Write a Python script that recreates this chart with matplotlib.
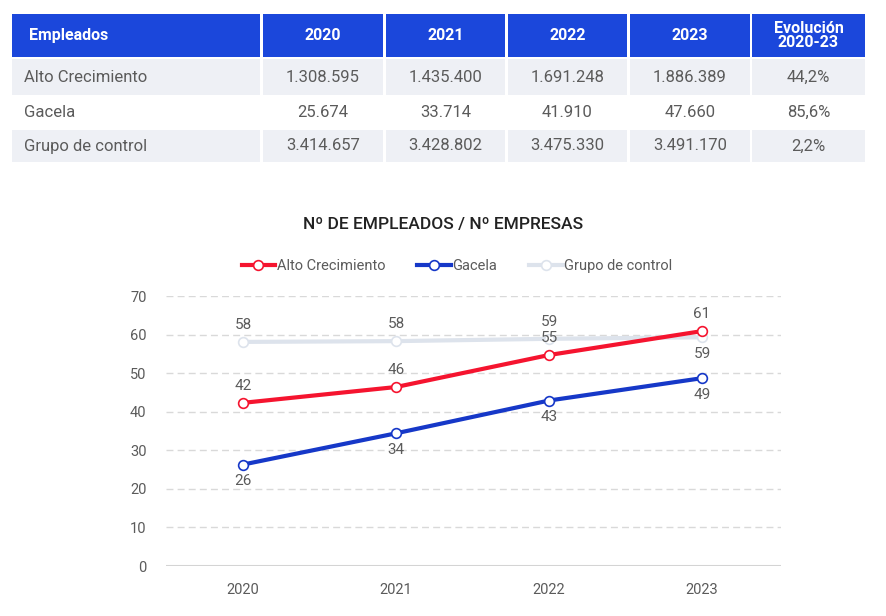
import numpy as np
import matplotlib.pyplot as plt
from matplotlib.patches import Rectangle

plt.rcParams['font.family'] = ['Roboto', 'DejaVu Sans']

# data
years = ['2020', '2021', '2022', '2023']
series = ['Alto Crecimiento', 'Gacela', 'Grupo de control']
alto = [42.3, 46.4, 54.7, 60.9]
gacela = [26.3, 34.4, 42.9, 48.7]
control = [58.1, 58.3, 58.9, 59.3]

tab_header = ['Empleados', '2020', '2021', '2022', '2023', 'Evolución\n2020-23']
tab_rows = [
    ['Alto Crecimiento', '1.308.595', '1.435.400', '1.691.248', '1.886.389', '44,2%'],
    ['Gacela', '25.674', '33.714', '41.910', '47.660', '85,6%'],
    ['Grupo de control', '3.414.657', '3.428.802', '3.475.330', '3.491.170', '2,2%'],
]

W, H = 886, 616
fig = plt.figure(figsize=(W / 100, H / 100), dpi=100)

def fx(x):
    return x / W

def fy(y):
    return 1 - y / H

# table drawn with rectangles and text in figure coords
col_edges = [(12, 260), (263, 383), (386, 505), (508, 627), (630, 750), (752, 865)]
row_edges = [(14, 57), (59, 95), (97, 128), (130, 162)]
blue_head = '#1b47db'
gray_row = '#eef0f5'
txt_col = '#5b5b5b'

for r, (y0, y1) in enumerate(row_edges):
    if r == 0:
        fc = blue_head
    elif r % 2 == 1:
        fc = gray_row
    else:
        fc = 'white'
    for c, (x0, x1) in enumerate(col_edges):
        fig.add_artist(Rectangle((fx(x0), fy(y1)), fx(x1 - x0), (y1 - y0) / H,
                                 transform=fig.transFigure, facecolor=fc,
                                 edgecolor='none'))
        if r == 0:
            label = tab_header[c]
            color = 'white'
            weight = 'bold'
            size = 11.5 if c < 5 else 11.5
        else:
            label = tab_rows[r - 1][c]
            color = txt_col
            weight = 'normal'
            size = 12
        ym = fy((y0 + y1) / 2)
        if c == 0:
            xt = fx(29) if r == 0 else fx(24)
            fig.text(xt, ym, label, ha='left', va='center', color=color,
                     fontsize=size, fontweight=weight, linespacing=0.9)
        else:
            fig.text(fx((x0 + x1) / 2), ym, label, ha='center', va='center',
                     color=color, fontsize=size, fontweight=weight,
                     linespacing=0.9)

# line chart
ax = fig.add_axes([fx(166), 50 / H, 615 / W, 270 / H])
x = np.arange(len(years))
red = '#f5142f'
blue = '#1638c8'
light = '#dde3ec'

ax.plot(x, control, color=light, lw=3, marker='o', ms=7, mfc='white',
        mec=light, mew=1.2, label=series[2], zorder=2)
ax.plot(x, alto, color=red, lw=3, marker='o', ms=7, mfc='white',
        mec=red, mew=1.2, label=series[0], zorder=3)
ax.plot(x, gacela, color=blue, lw=3, marker='o', ms=7, mfc='white',
        mec=blue, mew=1.2, label=series[1], zorder=3)

lab_kw = dict(textcoords='offset points', ha='center', color=txt_col, fontsize=11)
for i in range(len(years)):
    ax.annotate(f'{alto[i]:.0f}', (x[i], alto[i]), xytext=(0, 7), va='bottom', **lab_kw)
    ax.annotate(f'{gacela[i]:.0f}', (x[i], gacela[i]), xytext=(0, -7), va='top', **lab_kw)
    if i < 3:
        ax.annotate(f'{control[i]:.0f}', (x[i], control[i]), xytext=(0, 7), va='bottom', **lab_kw)
    else:
        ax.annotate(f'{control[i]:.0f}', (x[i], control[i]), xytext=(0, -7), va='top', **lab_kw)

ax.set_xlim(-0.503, 3.516)
ax.set_ylim(0, 70)
ax.set_yticks(np.arange(0, 71, 10))
ax.set_xticks(x)
ax.set_xticklabels(years)
ax.tick_params(axis='both', length=0, labelsize=10.5, labelcolor=txt_col)
ax.tick_params(axis='y', pad=14)
ax.tick_params(axis='x', pad=12)
for s in ax.spines.values():
    s.set_visible(False)
for v in np.arange(10, 71, 10):
    ax.axhline(v, color='#d9d9d9', lw=1, ls=(0, (5, 3)), zorder=0)
ax.axhline(0, color='#d4d4d4', lw=1.5, zorder=0)

fig.text(fx(443), fy(224), 'Nº DE EMPLEADOS / Nº EMPRESAS', ha='center',
         va='center', fontsize=12.5, color='#222222', fontweight='medium')

h, l = ax.get_legend_handles_labels()
order = [1, 2, 0]
ax.legend([h[i] for i in order], [l[i] for i in order], ncol=3, frameon=False,
          loc='center', bbox_to_anchor=(0.473, (fy(266) - 50 / H) / (270 / H)),
          handlelength=2.3, handletextpad=0.1, columnspacing=2.2,
          fontsize=10.5, labelcolor=txt_col)

fig.savefig('out.png', dpi=100)
